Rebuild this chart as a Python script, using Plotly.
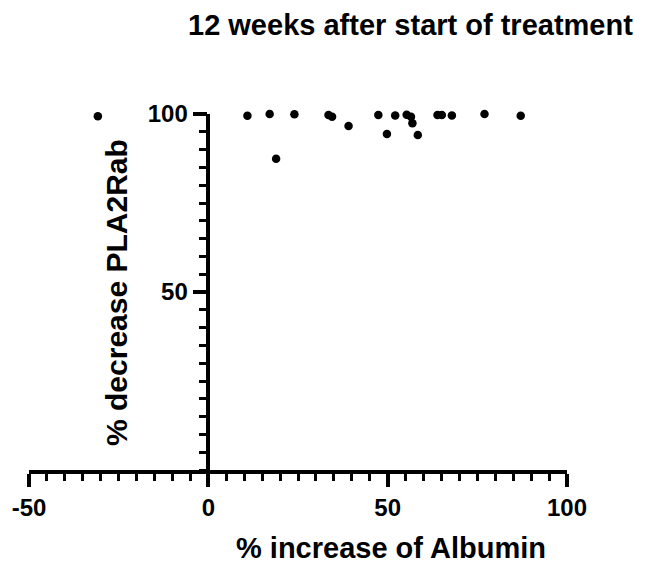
import plotly.graph_objects as go

albumin_increase = [-30.8, 10.9, 17.1, 18.9, 24.0, 33.5, 34.5, 39.1, 47.4, 49.8, 52.1, 55.3, 56.5, 56.9, 58.4, 63.9, 65.1, 67.9, 77.0, 87.1]
pla2rab_decrease = [99.4, 99.5, 100.0, 87.4, 99.9, 99.7, 99.2, 96.6, 99.7, 94.4, 99.6, 99.8, 99.2, 97.4, 94.1, 99.7, 99.7, 99.6, 100.0, 99.5]

x_tickvals = [-50, 0, 50, 100]
x_ticktext = ["-50", "0", "50", "100"]
y_tickvals = [50, 100]
y_ticktext = ["50", "100"]

title_text = "12 weeks after start of treatment"
x_title = "% increase of Albumin"
y_title = "% decrease PLA2Rab"

FONT = "Liberation Sans, Arial, sans-serif"

L, R, T, B = 29, 79, 114, 93
W, H = 646, 563
PW, PH = W - L - R, H - T - B


def px(xp):
    return (xp - L) / PW


def py(yp):
    return (H - B - yp) / PH


fig = go.Figure()
fig.add_trace(go.Scatter(
    x=albumin_increase, y=pla2rab_decrease, mode="markers",
    marker=dict(color="black", size=8.5), cliponaxis=False, showlegend=False,
))

fig.update_layout(
    width=W, height=H,
    margin=dict(l=L, r=R, t=T, b=B),
    plot_bgcolor="white", paper_bgcolor="white",
    xaxis=dict(
        range=[-50, 100], showgrid=False, zeroline=False,
        showline=True, linecolor="black", linewidth=3.5,
        tickmode="array", tickvals=x_tickvals, ticktext=x_ticktext,
        ticks="outside", ticklen=13, tickwidth=3.5, tickcolor="black",
        tickfont=dict(family=FONT, size=24, color="black", weight="bold"),
        minor=dict(dtick=5, tick0=0, ticks="outside", ticklen=7, tickwidth=3, tickcolor="black", showgrid=False),
    ),
    yaxis=dict(
        range=[0, 100], showgrid=False, zeroline=False,
        anchor="free", position=1/3,
        showline=True, linecolor="black", linewidth=3.5,
        tickmode="array", tickvals=y_tickvals, ticktext=y_ticktext,
        ticks="outside", ticklen=14, tickwidth=3.5, tickcolor="black",
        tickfont=dict(family=FONT, size=24, color="black", weight="bold"),
        minor=dict(dtick=5, tick0=0, ticks="outside", ticklen=8, tickwidth=3, tickcolor="black", showgrid=False),
    ),
    annotations=[
        dict(text=title_text, xref="paper", yref="paper", x=px(410), y=py(25),
             showarrow=False, xanchor="center", yanchor="middle",
             font=dict(family=FONT, size=29, color="black", weight="bold")),
        dict(text=x_title, xref="paper", yref="paper", x=px(391), y=py(548),
             showarrow=False, xanchor="center", yanchor="middle",
             font=dict(family=FONT, size=29, color="black", weight="bold")),
        dict(text=y_title, xref="paper", yref="paper", x=px(116), y=py(293), textangle=-90,
             showarrow=False, xanchor="center", yanchor="middle",
             font=dict(family=FONT, size=30, color="black", weight="bold")),
    ],
)

fig.write_html("out.html")
